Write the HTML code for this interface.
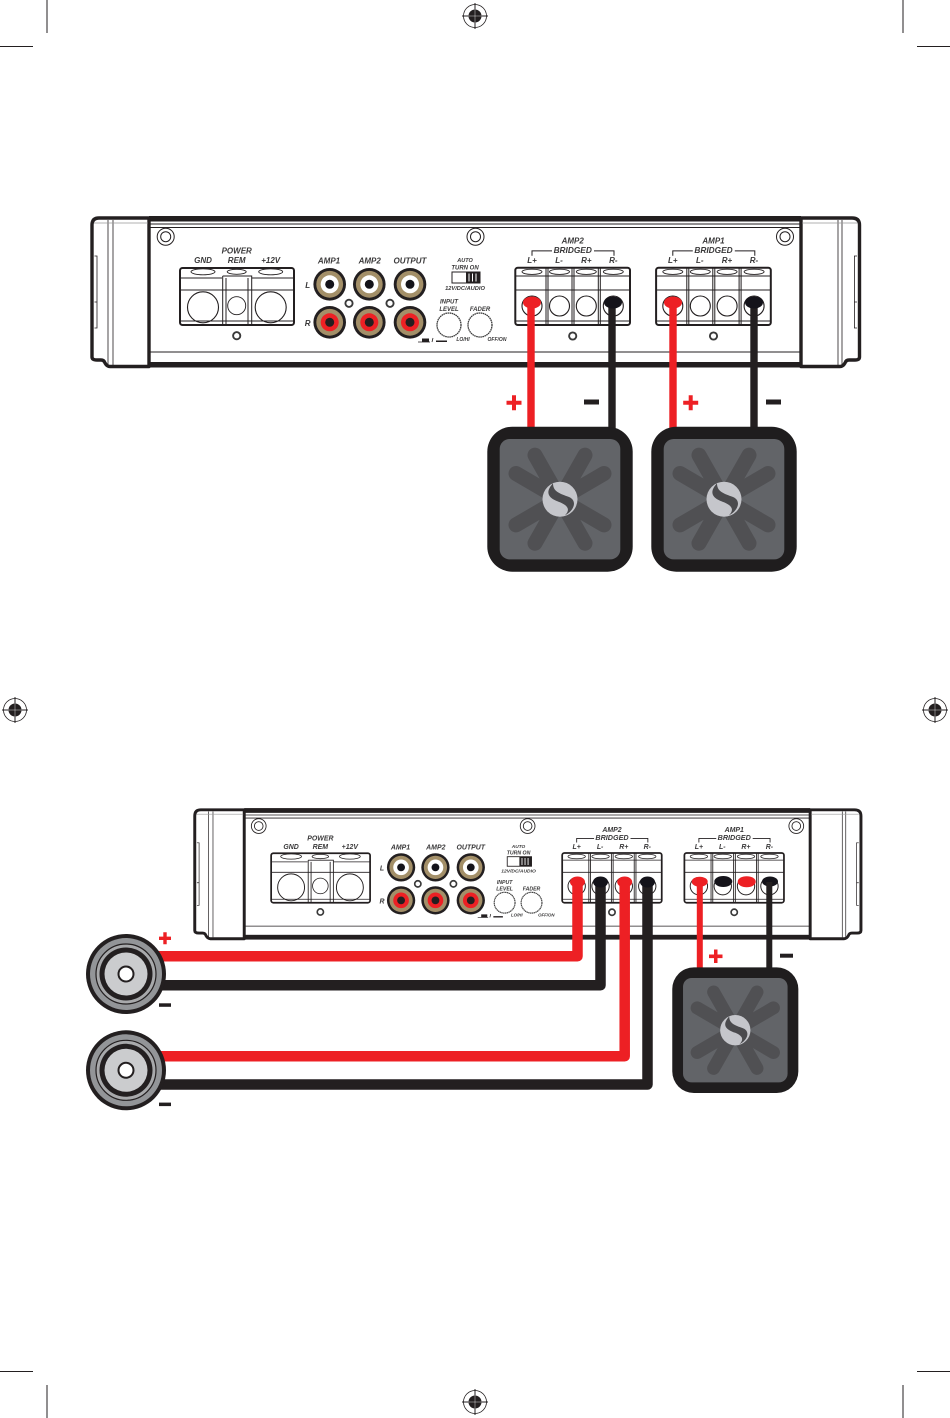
<!DOCTYPE html>
<html><head><meta charset="utf-8"><title>Amplifier wiring diagram</title>
<style>
html,body{margin:0;padding:0;background:#fff;width:950px;height:1418px;overflow:hidden}
svg{display:block}
text{font-family:"Liberation Sans",sans-serif;font-weight:bold;font-style:italic;fill:#3a393a;text-anchor:middle}
</style></head><body>
<svg width="950" height="1418" viewBox="0 0 950 1418" xmlns="http://www.w3.org/2000/svg">
<defs>
<g id="reg">
<circle r="11.5" fill="none" stroke="#231f20" stroke-width=".8"/>
<circle r="6.5" fill="#231f20"/>
<path d="M-13 0H13M0-13V13" stroke="#231f20" stroke-width="1"/>
<path d="M-6.5 0H6.5M0-6.5V6.5" stroke="#fff" stroke-width=".4"/>
</g>
<g id="screw" fill="#fff" stroke="#231f20" stroke-width="1"><circle r="8.5"/><circle r="5"/></g>
<circle id="hole" r="3.6" fill="#fff" stroke="#3a3a3a" stroke-width="1.9"/>
<g id="rcaW">
<circle r="16.3" fill="#231f20"/><circle r="13.4" fill="#a38f68"/><circle r="9" fill="#fff"/><circle r="4.5" fill="#14131a"/>
</g>
<g id="rcaR">
<circle r="16.3" fill="#231f20"/><circle r="13.4" fill="#a38f68"/><circle r="9" fill="#ed2024"/><circle r="4.5" fill="#231f20"/>
</g>
<g id="term" fill="none" stroke="#231f20">
<rect x="515.3" y="267.7" width="114.7" height="57.3" rx="2.500" fill="#fff" stroke-width="2"/>
<path d="M515.3 276H630M515.3 290H630M515.3 321H630" stroke-width=".9"/>
<path d="M546 268V325M548 268V325M572 268V325M574 268V325M598.300 268V325M600.300 268V325" stroke-width="1"/>
<g stroke-width=".9"><ellipse cx="532" cy="271.8" rx="10" ry="2.6"/><ellipse cx="559.5" cy="271.8" rx="10" ry="2.6"/><ellipse cx="586.3" cy="271.8" rx="10" ry="2.6"/><ellipse cx="613.3" cy="271.8" rx="10" ry="2.6"/></g>
<g stroke-width="1.1"><circle cx="532" cy="306" r="10"/><circle cx="559.5" cy="306" r="10"/><circle cx="586.3" cy="306" r="10"/><circle cx="613.3" cy="306" r="10"/></g>
<path d="M532 255.7V250.9H552M594 250.9H614V255.7" stroke-width="1"/>
</g>
<g id="amp">
<rect x="149" y="216" width="652" height="151" fill="#fff"/>
<path d="M149 224H801M149 227.5H801M149 352H801" stroke="#231f20" stroke-width=".9" fill="none"/>
<rect x="149" y="216" width="652" height="5.500" fill="#231f20"/>
<rect x="149" y="362" width="652" height="5.500" fill="#231f20"/>
<path d="M149 218H99Q92 218 92 225V357Q92 360 97 360H101Q104 360 105 363Q107 366.500 110 366.500H149V218Z" fill="#fff" stroke="#231f20" stroke-width="3.400" stroke-linejoin="round"/>
<path d="M801 218H852Q859.500 218 859.500 225V357Q859.500 360 855 360H849Q846 360 845 363Q843 366.500 840 366.500H801V218Z" fill="#fff" stroke="#231f20" stroke-width="3.400" stroke-linejoin="round"/>
<path d="M108 220V365M113 220V365M838 220V365M842 220V365" stroke="#231f20" stroke-width=".8"/>
<path d="M94 223H149M801 223H857" stroke="#999" stroke-width=".7"/>
<path d="M149 217V367M801 217V367" stroke="#231f20" stroke-width="2.400"/>
<path d="M94.500 256H97V328H94.500M94.500 302H97M857 256H854.400V328H857M854.400 302H857" fill="none" stroke="#231f20" stroke-width=".8"/>
<use href="#screw" x="165.7" y="236.7"/><use href="#screw" x="475.5" y="236.7"/><use href="#screw" x="785" y="236.7"/>
<g fill="none" stroke="#231f20">
<rect x="180" y="268" width="114" height="57" rx="2.500" fill="#fff" stroke-width="2"/>
<path d="M180 278H222M252 278H294M180 290H294M180 321H294" stroke-width=".9"/>
<path d="M222.7 276H251.7V325M222.7 276V325M226 278V325M248 278V325" stroke-width="1"/>
<circle cx="203" cy="307.3" r="15.5" stroke-width="1.1"/><circle cx="270.7" cy="307.3" r="15.5" stroke-width="1.1"/><circle cx="236.7" cy="305.7" r="9" stroke-width=".9"/>
<ellipse cx="203" cy="271.8" rx="12" ry="3" stroke-width=".9"/><ellipse cx="236.7" cy="271.8" rx="9.5" ry="2.5" stroke-width=".9"/><ellipse cx="270.7" cy="271.8" rx="12" ry="3" stroke-width=".9"/>
</g>
<use href="#hole" x="236.7" y="335.7"/>
<use href="#rcaW" x="329.7" y="284.3"/><use href="#rcaW" x="369.3" y="284.3"/><use href="#rcaW" x="410" y="284.3"/>
<use href="#rcaR" x="329.7" y="322.3"/><use href="#rcaR" x="369.3" y="322.3"/><use href="#rcaR" x="410" y="322.3"/>
<use href="#hole" x="349" y="303.3"/><use href="#hole" x="390" y="303.3"/>
<rect x="452" y="272" width="28" height="11" fill="#fff" stroke="#231f20" stroke-width="1"/>
<rect x="466" y="272" width="14" height="11" fill="#231f20"/>
<path d="M469 273.5V281.5M472.5 273.5V281.5M476 273.5V281.5" stroke="#fff" stroke-width="1"/>
<circle cx="449" cy="325" r="12" fill="#fff" stroke="#3a3a3a" stroke-width="1.3" stroke-dasharray="1.6 .5"/>
<circle cx="480" cy="325" r="12" fill="#fff" stroke="#3a3a3a" stroke-width="1.3" stroke-dasharray="1.6 .5"/>
<path d="M422 338.5H429V342H422ZM436 340.5H447V342H436Z" fill="#231f20"/>
<path d="M418 342H430M433 338L432 342" stroke="#231f20" stroke-width=".8" fill="none"/>
<use href="#term"/><use href="#term" x="140.8"/>
<use href="#hole" x="572.7" y="336"/><use href="#hole" x="713.5" y="336"/>
</g>
<g id="sub">
<rect x="-72.7" y="-72.5" width="145.4" height="145" rx="25" fill="#1f1d1e"/>
<rect x="-60.3" y="-60.2" width="120.6" height="120.4" rx="10" fill="#626468"/>
<path d="M-25-44L25 44M25-44L-25 44M-44-25.7L44 25.7M44-25.7L-44 25.7" stroke="#505053" stroke-width="15" stroke-linecap="round"/>
<circle r="17.5" fill="#c5c6cb"/>
<path d="M-7-16C-17-5-9 0 0 3C7 6 11 10 5 16C15 11 18 0 7-3C-1-6-7-8-7-16Z" fill="#4a4a4d"/>
</g>
<g id="spk">
<circle r="40" fill="#231f20"/><circle r="36" fill="#939598"/>
<circle r="30" fill="#a8a9ab" stroke="#231f20" stroke-width="1.2"/>
<circle r="26.5" fill="#231f20"/><circle r="21.5" fill="#cbccce"/>
<circle r="7.5" fill="#fff" stroke="#231f20" stroke-width="2"/>
</g>
</defs>

<!-- crop & registration marks -->
<path d="M47 0V33M0 46.500H33M903 0V33M917 46.500H950M47 1385V1418M0 1371.500H33M903 1385V1418M917 1371.500H950" stroke="#231f20" stroke-width="1" fill="none"/>
<use href="#reg" x="475" y="16"/><use href="#reg" x="475" y="1402"/><use href="#reg" x="15" y="710"/><use href="#reg" x="935" y="710"/>

<!-- top amplifier -->
<use href="#amp"/>
<g>
<text x="236.700" y="253.500" font-size="8">POWER</text>
<text x="203" y="263" font-size="8">GND</text><text x="236.700" y="263" font-size="8">REM</text><text x="270.700" y="263" font-size="8">+12V</text>
<text x="329" y="263.500" font-size="8">AMP1</text><text x="369.700" y="263.500" font-size="8">AMP2</text><text x="410" y="263.500" font-size="8">OUTPUT</text>
<text x="307.700" y="288" font-size="8">L</text><text x="307.700" y="326" font-size="8">R</text>
<text x="465" y="262" font-size="5.500">AUTO</text><text x="465" y="269.500" font-size="6">TURN ON</text><text x="465" y="290" font-size="5.700">12V/DC/AUDIO</text>
<text x="449" y="303.500" font-size="6">INPUT</text><text x="449" y="311" font-size="6">LEVEL</text><text x="480" y="311" font-size="6">FADER</text>
<text x="463" y="341" font-size="5">LO/HI</text><text x="497" y="341" font-size="5">OFF/ON</text>
<text x="572.700" y="243.500" font-size="8">AMP2</text><text x="572.700" y="253" font-size="8.300">BRIDGED</text>
<text x="713.500" y="243.500" font-size="8">AMP1</text><text x="713.500" y="253" font-size="8.300">BRIDGED</text>
<text x="532" y="263" font-size="8">L+</text><text x="559" y="263" font-size="8">L-</text><text x="586.300" y="263" font-size="8">R+</text><text x="613.300" y="263" font-size="8">R-</text>
<text x="672.800" y="263" font-size="8">L+</text><text x="699.800" y="263" font-size="8">L-</text><text x="727" y="263" font-size="8">R+</text><text x="754" y="263" font-size="8">R-</text>
</g>

<!-- top wiring -->
<g fill="none" stroke-width="7.400">
<path d="M531 302V430" stroke="#ed2024"/><path d="M612 302V430" stroke="#231f20"/>
<path d="M673 302V430" stroke="#ed2024"/><path d="M754 302V430" stroke="#231f20"/>
</g>
<ellipse cx="532" cy="302.500" rx="9" ry="6" fill="#ed2024"/><ellipse cx="613" cy="302.500" rx="9" ry="6" fill="#14131a"/>
<ellipse cx="673" cy="302.500" rx="9" ry="6" fill="#ed2024"/><ellipse cx="754" cy="302.500" rx="9" ry="6" fill="#14131a"/>
<use href="#sub" x="560" y="499.200"/><use href="#sub" x="724" y="499.200"/>
<path d="M506.500 400.700H521.500V404.700H506.500ZM512 395.200H516V410.200H512Z" fill="#ed2024"/>
<path d="M683.200 400.700H698.200V404.700H683.200ZM688.700 395.200H692.700V410.200H688.700Z" fill="#ed2024"/>
<rect x="584" y="399.500" width="15" height="5" fill="#231f20"/>
<rect x="766" y="399.500" width="15" height="5" fill="#231f20"/>

<!-- bottom amplifier -->
<g transform="translate(114.900 620.600) scale(.868)">
<use href="#amp"/>
<text x="236.700" y="253.500" font-size="8">POWER</text>
<text x="203" y="263" font-size="8">GND</text><text x="236.700" y="263" font-size="8">REM</text><text x="270.700" y="263" font-size="8">+12V</text>
<text x="329" y="263.500" font-size="8">AMP1</text><text x="369.700" y="263.500" font-size="8">AMP2</text><text x="410" y="263.500" font-size="8">OUTPUT</text>
<text x="307.700" y="288" font-size="8">L</text><text x="307.700" y="326" font-size="8">R</text>
<text x="465" y="262" font-size="5.500">AUTO</text><text x="465" y="269.500" font-size="6">TURN ON</text><text x="465" y="290" font-size="5.700">12V/DC/AUDIO</text>
<text x="449" y="303.500" font-size="6">INPUT</text><text x="449" y="311" font-size="6">LEVEL</text><text x="480" y="311" font-size="6">FADER</text>
<text x="463" y="341" font-size="5">LO/HI</text><text x="497" y="341" font-size="5">OFF/ON</text>
<text x="572.700" y="243.500" font-size="8">AMP2</text><text x="572.700" y="253" font-size="8.300">BRIDGED</text>
<text x="713.500" y="243.500" font-size="8">AMP1</text><text x="713.500" y="253" font-size="8.300">BRIDGED</text>
<text x="532" y="263" font-size="8">L+</text><text x="559" y="263" font-size="8">L-</text><text x="586.300" y="263" font-size="8">R+</text><text x="613.300" y="263" font-size="8">R-</text>
<text x="672.800" y="263" font-size="8">L+</text><text x="699.800" y="263" font-size="8">L-</text><text x="727" y="263" font-size="8">R+</text><text x="754" y="263" font-size="8">R-</text>
</g>

<!-- bottom wiring -->
<g fill="none" stroke-width="10.500" stroke-linejoin="round" stroke-linecap="round">
<path d="M577.500 882V956.300H150" stroke="#ed2024"/>
<path d="M600.500 882V985.300H150" stroke="#231f20"/>
<path d="M624.700 882V1056.300H150" stroke="#ed2024"/>
<path d="M647.500 882V1084.500H150" stroke="#231f20"/>
</g>
<ellipse cx="577.500" cy="882" rx="7.500" ry="5.500" fill="#ed2024"/>
<ellipse cx="600.500" cy="882" rx="7.500" ry="5.500" fill="#14131a"/>
<ellipse cx="624.700" cy="882" rx="7.500" ry="5.500" fill="#ed2024"/>
<ellipse cx="647.500" cy="882" rx="7.500" ry="5.500" fill="#14131a"/>
<ellipse cx="723.300" cy="881.500" rx="9" ry="5.500" fill="#14131a"/>
<ellipse cx="746.700" cy="881.700" rx="9" ry="5.500" fill="#ed2024"/>
<ellipse cx="699.700" cy="881.700" rx="8" ry="5" fill="#ed2024"/>
<ellipse cx="770" cy="881.500" rx="8" ry="5" fill="#14131a"/>
<path d="M699.800 882V972" stroke="#ed2024" stroke-width="6" fill="none"/>
<path d="M769.300 882V972" stroke="#231f20" stroke-width="6" fill="none"/>
<g transform="translate(735.300 1030.200) scale(.867)"><use href="#sub"/></g>
<path d="M709 954.500H722.500V958.100H709ZM714 949.500H717.500V963H714Z" fill="#ed2024"/>
<rect x="780" y="953.700" width="13" height="4" fill="#231f20"/>

<!-- component speakers -->
<use href="#spk" x="126" y="974"/><use href="#spk" x="126" y="1070.300"/>
<path d="M159 936.600H171V940H159ZM163.300 932.300H166.700V944.300H163.300Z" fill="#ed2024"/>
<rect x="159" y="1003.300" width="12" height="3.500" fill="#231f20"/>
<rect x="159" y="1102.600" width="12" height="3.500" fill="#231f20"/>
</svg>
</body></html>
